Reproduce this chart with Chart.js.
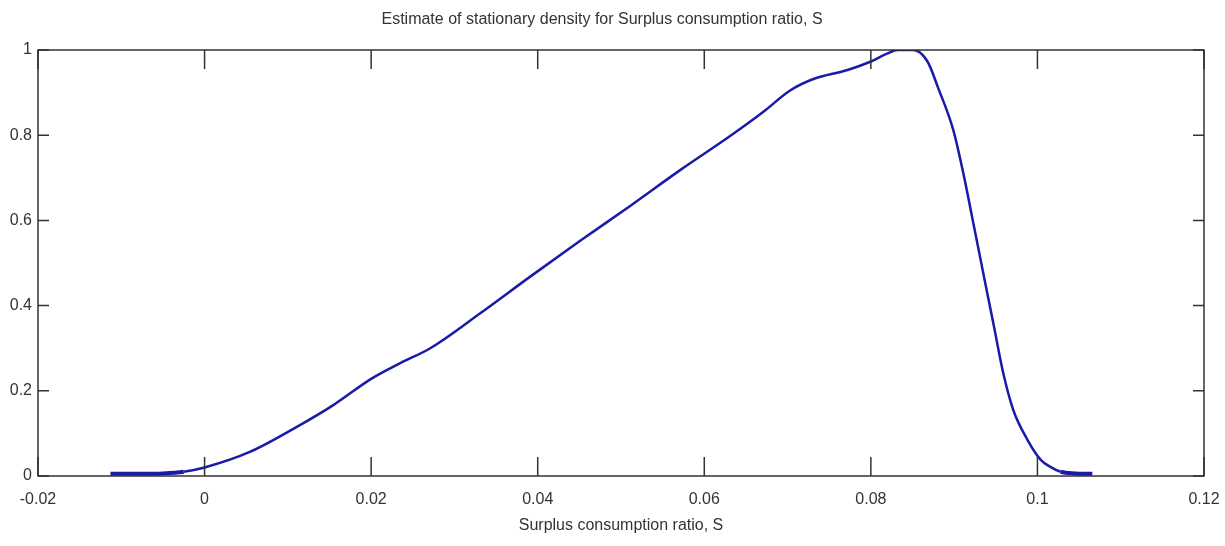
<!DOCTYPE html>
<html>
<head>
<meta charset="utf-8">
<script src="https://cdn.jsdelivr.net/npm/chart.js@4/dist/chart.umd.min.js"></script>
<style>
    body { margin: 0; background: #fff; }
    #caixa { width: 1225px; height: 546px; }
</style>
</head>
<body>
<div id="caixa"><canvas id="graficoDensidade"></canvas></div>
<script>
// valores
const valoresS = [
    -0.0113, -0.008, -0.005, -0.0025, 0, 0.0055, 0.0115, 0.0155, 0.02, 0.0235,
    0.0271, 0.0331, 0.0391, 0.0451, 0.0511, 0.0571, 0.0631, 0.0671, 0.0703, 0.0731,
    0.0772, 0.08, 0.082, 0.0832, 0.0851, 0.0868, 0.0881, 0.0899, 0.0911, 0.0923,
    0.0935, 0.0947, 0.0959, 0.0971, 0.0988, 0.1004, 0.1016, 0.1028, 0.1045, 0.1066
];
const densidade = [
    0.005, 0.005, 0.006, 0.01, 0.02, 0.057, 0.12, 0.167, 0.228, 0.265,
    0.30, 0.382, 0.468, 0.552, 0.634, 0.718, 0.798, 0.855, 0.905, 0.932,
    0.953, 0.973, 0.992, 1.0, 1.0, 0.973, 0.91, 0.812, 0.711, 0.594,
    0.476, 0.359, 0.241, 0.155, 0.085, 0.038, 0.021, 0.01, 0.006, 0.005
];

const ticksX = [-0.02, 0, 0.02, 0.04, 0.06, 0.08, 0.1, 0.12];
const rotulosX = ['-0.02', '0', '0.02', '0.04', '0.06', '0.08', '0.1', '0.12'];
const ticksY = [0, 0.2, 0.4, 0.6, 0.8, 1];
const rotulosY = ['0', '0.2', '0.4', '0.6', '0.8', '1'];

const fonte = "'Liberation Sans', Arial, sans-serif";

// moldura com marcas para dentro, estilo matlab
const moldura = {
    id: 'moldura',
    afterDraw(chart) {
        const ctx = chart.ctx;
        const a = chart.chartArea;
        const escX = chart.scales.x;
        const escY = chart.scales.y;
        ctx.save();
        ctx.strokeStyle = '#333';
        ctx.lineWidth = 1.5;
        ctx.strokeRect(a.left, a.top, a.right - a.left, a.bottom - a.top);
        ctx.beginPath();
        for (let i = 0; i < ticksX.length; i++) {
            const px = escX.getPixelForValue(ticksX[i]);
            ctx.moveTo(px, a.bottom);
            ctx.lineTo(px, a.bottom - 19);
            ctx.moveTo(px, a.top);
            ctx.lineTo(px, a.top + 19);
        }
        for (let i = 0; i < ticksY.length; i++) {
            const py = escY.getPixelForValue(ticksY[i]);
            ctx.moveTo(a.left, py);
            ctx.lineTo(a.left + 11, py);
            ctx.moveTo(a.right, py);
            ctx.lineTo(a.right - 11, py);
        }
        ctx.stroke();
        ctx.restore();
    }
};

const pontos = [];
for (let i = 0; i < valoresS.length; i++) {
    pontos.push({ x: valoresS[i], y: densidade[i] });
}

new Chart(document.getElementById('graficoDensidade'), {
    type: 'line',
    data: {
        datasets: [{
            data: pontos,
            borderColor: '#1a1aa8',
            borderWidth: 2.5,
            pointRadius: 0,
            cubicInterpolationMode: 'monotone',
            segment: {
                borderWidth: ctx => (ctx.p0.parsed.y < 0.012 && ctx.p1.parsed.y < 0.012) ? 4 : 2.5
            }
        }]
    },
    options: {
        responsive: true,
        maintainAspectRatio: false,
        animation: false,
        layout: { padding: { left: 0, right: 21, top: 0, bottom: 0 } },
        plugins: {
            legend: { display: false },
            tooltip: { enabled: false },
            title: {
                display: true,
                text: 'Estimate of stationary density for Surplus consumption ratio, S',
                color: '#333',
                font: { family: fonte, size: 16, weight: 'normal' },
                padding: { top: 10, bottom: 20.8 }
            }
        },
        scales: {
            x: {
                type: 'linear',
                min: -0.02,
                max: 0.12,
                afterBuildTicks: escala => { escala.ticks = ticksX.map(v => ({ value: v })); },
                afterFit: escala => {
                    escala.height = 70;
                    escala.paddingLeft = 0;
                    escala.paddingRight = 0;
                },
                grid: { display: false, drawTicks: false },
                border: { display: false },
                ticks: {
                    color: '#333',
                    padding: 14,
                    maxRotation: 0,
                    autoSkip: false,
                    font: { family: fonte, size: 16 },
                    callback: (v, i) => rotulosX[i]
                },
                title: {
                    display: true,
                    text: 'Surplus consumption ratio, S',
                    color: '#333',
                    font: { family: fonte, size: 16 },
                    padding: { top: 0, bottom: 11 }
                }
            },
            y: {
                min: 0,
                max: 1,
                afterBuildTicks: escala => { escala.ticks = ticksY.map(v => ({ value: v })); },
                afterFit: escala => {
                    escala.width = 38;
                    escala.paddingTop = 0;
                    escala.paddingBottom = 0;
                },
                grid: { display: false, drawTicks: false },
                border: { display: false },
                ticks: {
                    color: '#333',
                    padding: 6,
                    font: { family: fonte, size: 16 },
                    callback: (v, i) => rotulosY[i]
                }
            }
        }
    },
    plugins: [moldura]
});
</script>
</body>
</html>
